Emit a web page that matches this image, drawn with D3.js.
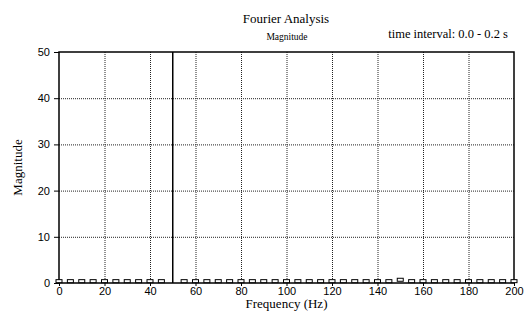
<!DOCTYPE html>
<html>
<head>
<meta charset="utf-8">
<script src="https://cdn.jsdelivr.net/npm/d3@7"></script>
<style>
  body { margin: 0; background: #fff; }
  svg { display: block; }
</style>
</head>
<body>
<svg id="chart"></svg>
<script>
// spectrum, 5 Hz resolution (0.2 s window)
const freqs = [0, 5, 10, 15, 20, 25, 30, 35, 40, 45, 50, 55, 60, 65, 70, 75, 80, 85, 90, 95,
    100, 105, 110, 115, 120, 125, 130, 135, 140, 145, 150, 155, 160, 165, 170, 175, 180, 185, 190, 195, 200];
const mags = [0.4, 0.4, 0.4, 0.4, 0.4, 0.4, 0.4, 0.4, 0.4, 0.4, 100, 0.4, 0.4, 0.4, 0.4, 0.4, 0.4, 0.4, 0.4, 0.4,
    0.4, 0.4, 0.4, 0.4, 0.4, 0.4, 0.4, 0.4, 0.4, 0.4, 0.7, 0.4, 0.4, 0.4, 0.4, 0.4, 0.4, 0.4, 0.4, 0.4, 0.4];
const xTicks = [0, 20, 40, 60, 80, 100, 120, 140, 160, 180, 200];
const yTicks = [0, 10, 20, 30, 40, 50];

const width = 526, height = 322;
const margin = {top: 52, right: 12, bottom: 39, left: 59};
const plotW = width - margin.left - margin.right;
const plotH = height - margin.top - margin.bottom;

const svg = d3.select("#chart")
    .attr("width", width)
    .attr("height", height);

const x = d3.scaleLinear().domain([0, 200]).range([0, plotW]);
const y = d3.scaleLinear().domain([0, 50]).range([plotH, 0]);

const g = svg.append("g")
    .attr("transform", `translate(${margin.left},${margin.top})`);

// dotted grid
g.selectAll(".vgrid")
    .data(xTicks.slice(1, -1))
    .join("line")
    .attr("x1", d => x(d) + 0.5).attr("x2", d => x(d) + 0.5)
    .attr("y1", 0).attr("y2", plotH)
    .attr("stroke", "#222").attr("stroke-width", 1)
    .attr("stroke-dasharray", "1,1");
g.selectAll(".hgrid")
    .data(yTicks.slice(1, -1))
    .join("line")
    .attr("x1", 0).attr("x2", plotW)
    .attr("y1", d => y(d) + 0.5).attr("y2", d => y(d) + 0.5)
    .attr("stroke", "#222").attr("stroke-width", 1)
    .attr("stroke-dasharray", "1,1");

// axes
const xAxis = g.append("g")
    .attr("transform", `translate(0,${plotH})`)
    .call(d3.axisBottom(x).tickValues(xTicks).tickSize(3).tickPadding(1).tickSizeOuter(0));
const yAxis = g.append("g")
    .call(d3.axisLeft(y).tickValues(yTicks).tickSize(5).tickSizeOuter(0));
[xAxis, yAxis].forEach(a => {
    a.select(".domain").remove();
    a.selectAll("text")
        .attr("font-family", "Liberation Sans, Arial, sans-serif")
        .attr("font-size", 11)
        .attr("fill", "#000");
    a.selectAll("line").attr("stroke", "#000");
});
yAxis.selectAll("text").attr("dx", "-1px");

// frame
g.append("rect")
    .attr("x", 0).attr("y", 0)
    .attr("width", plotW).attr("height", plotH)
    .attr("fill", "none")
    .attr("stroke", "#000")
    .attr("stroke-width", 1.5);

// data
const data = freqs.map((f, i) => ({f: f, m: mags[i]}));
const marks = g.append("g");

marks.selectAll(".spike")
    .data(data.filter(d => d.m > 50))
    .join("line")
    .attr("x1", d => x(d.f)).attr("x2", d => x(d.f))
    .attr("y1", y(0)).attr("y2", d => y(Math.min(d.m, 50)))
    .attr("stroke", "#000").attr("stroke-width", 1.5);

marks.selectAll(".mark")
    .data(data.filter(d => d.m <= 50))
    .join("rect")
    .attr("x", d => x(d.f) - 3)
    .attr("y", d => y(d.m) - 1.5)
    .attr("width", 6)
    .attr("height", 3)
    .attr("fill", "#fff")
    .attr("stroke", "#000")
    .attr("stroke-width", 1);

// titles
const serif = "Liberation Serif, Times New Roman, serif";
svg.append("text")
    .attr("x", 286).attr("y", 23)
    .attr("text-anchor", "middle")
    .attr("font-family", serif)
    .attr("font-size", 13)
    .text("Fourier Analysis");
svg.append("text")
    .attr("x", 287).attr("y", 40)
    .attr("text-anchor", "middle")
    .attr("font-family", serif)
    .attr("font-size", 9.5)
    .text("Magnitude");
svg.append("text")
    .attr("x", 508).attr("y", 38)
    .attr("text-anchor", "end")
    .attr("font-family", serif)
    .attr("font-size", 12.5)
    .text("time interval: 0.0 - 0.2 s");
svg.append("text")
    .attr("x", margin.left + plotW / 2).attr("y", 308)
    .attr("text-anchor", "middle")
    .attr("font-family", serif)
    .attr("font-size", 13)
    .text("Frequency (Hz)");
svg.append("text")
    .attr("transform", `translate(22,${margin.top + plotH / 2}) rotate(-90)`)
    .attr("text-anchor", "middle")
    .attr("font-family", serif)
    .attr("font-size", 13)
    .text("Magnitude");
</script>
</body>
</html>
